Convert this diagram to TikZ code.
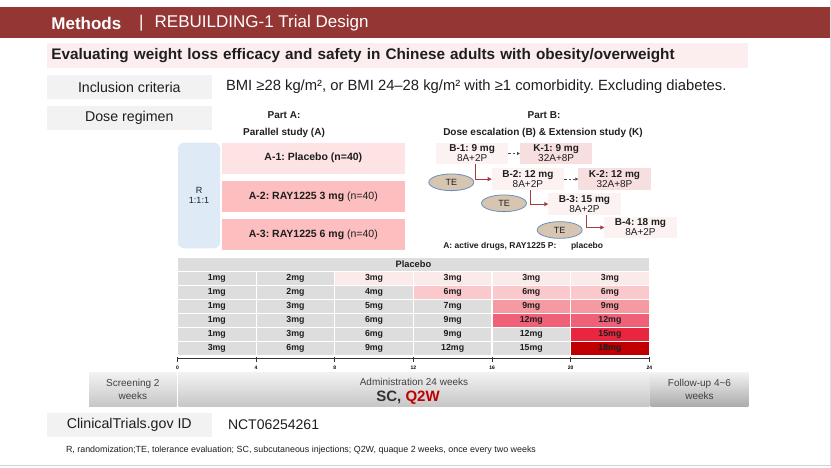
\documentclass[tikz,border=0pt]{standalone}
\usepackage{fontspec}
\setmainfont{Liberation Sans}
\usetikzlibrary{shapes.geometric,arrows.meta}
\frenchspacing
\definecolor{hdr}{HTML}{943634}
\definecolor{subpink}{HTML}{FCEEEE}
\definecolor{lblgray}{HTML}{F2F2F2}
\definecolor{rblue}{HTML}{DEEBF7}
\definecolor{apinkA}{HTML}{FDE3E3}
\definecolor{apinkB}{HTML}{FCBEBE}
\definecolor{bpink}{HTML}{FDF2F2}
\definecolor{kpink}{HTML}{F8DFDF}
\definecolor{tefill}{HTML}{D5C5B1}
\definecolor{teedge}{HTML}{6C8EBF}
\definecolor{arrred}{HTML}{A53C3C}
\definecolor{cgray}{HTML}{DDDDDD}
\definecolor{cthree}{HTML}{FBEAEA}
\definecolor{csix}{HTML}{FBC8CC}
\definecolor{cnine}{HTML}{F59AA1}
\definecolor{ctwelve}{HTML}{EF6178}
\definecolor{cfifteen}{HTML}{E8263F}
\definecolor{ceighteen}{HTML}{C00000}
\definecolor{txt}{HTML}{1E1E1E}
\definecolor{tltxt}{HTML}{404040}
\definecolor{tltop}{HTML}{F2F2F2}
\definecolor{tlbot}{HTML}{C6C6C6}
\definecolor{fubot}{HTML}{ABABAB}
\begin{document}
\begin{tikzpicture}[x=1pt,y=-1pt,
  every node/.style={inner sep=0pt, outer sep=0pt},
  lbox/.style={fill=lblgray, anchor=north west, minimum width=165.4pt, minimum height=24pt, font=\fontsize{14.2}{16}\selectfont, text=txt},
  abox/.style={anchor=north west, minimum width=183.3pt, minimum height=31pt, font=\fontsize{10.5}{12}\selectfont, text=txt},
  bbox/.style={fill=bpink, anchor=north west, minimum width=72.3pt, minimum height=21.6pt, align=center, font=\fontsize{10}{10}\selectfont, text=txt},
  kbox/.style={bbox, fill=kpink},
  te/.style={ellipse, fill=tefill, draw=teedge, line width=0.8pt, minimum width=45pt, minimum height=16.7pt, font=\fontsize{9}{10}\selectfont, text=txt},
  escal/.style={draw=arrred, line width=1pt, -{Triangle[length=4pt,width=4pt]}},
  ext/.style={draw=black!70, line width=0.8pt, dash pattern=on 2.5pt off 2pt, -{Triangle[length=3pt,width=3pt]}},
  cell/.style={draw=white, line width=1.2pt},
  ctext/.style={font=\bfseries\fontsize{8.8}{9}\selectfont, text=txt},
  ticklbl/.style={font=\bfseries\fontsize{5}{6}\selectfont},
  tlbox/.style={anchor=north west, minimum height=34.4pt, top color=tltop, bottom color=tlbot, align=center, text=tltxt, font=\fontsize{10}{12.6}\selectfont},
  parttxt/.style={font=\bfseries\fontsize{10}{12}\selectfont, text=txt}
]
\useasboundingbox (0,0) rectangle (831,468);
% header
\fill[hdr] (0,7.3) rectangle (830,38.3);
\node[anchor=west, text=white, font=\bfseries\fontsize{17}{20}\selectfont] (meth) at (51.4,23) {Methods};
\node[anchor=west, text=white, font=\fontsize{17}{20}\selectfont] (bar) at (139,23) {|};
\node[anchor=west, text=white, font=\fontsize{17}{20}\selectfont] (title) at (154.7,23) {REBUILDING-1 Trial Design};
% subtitle
\node[fill=subpink, anchor=north west, text width=692pt, inner xsep=4.8pt, minimum height=25pt, align=left, font=\bfseries\fontsize{15.3}{17}\selectfont, text=txt] (subt) at (46.6,43.3) {Evaluating weight loss efficacy and safety in Chinese adults with obesity/overweight};
% labels
\node[lbox] (incl) at (46.6,75) {Inclusion criteria};
\node[anchor=west, font=\fontsize{14.8}{16}\selectfont, text=txt] (crit) at (226,87) {BMI ≥28 kg/m², or BMI 24–28 kg/m² with ≥1 comorbidity. Excluding diabetes.};
\node[lbox] (dose) at (46.6,106) {Dose regimen};
% Part A
\node[parttxt] (pa) at (284,115) {Part A:};
\node[parttxt] (pas) at (284,133) {Parallel study (A)};
\node[fill=rblue, rounded corners=6pt, anchor=north west, minimum width=42pt, minimum height=105.6pt, align=center, font=\fontsize{9}{10.3}\selectfont, text=txt] (R) at (178,142.7) {R\\1:1:1};
\node[abox, fill=apinkA] (a1) at (221.7,142.7) {\textbf{A-1: Placebo (n=40)}};
\node[abox, fill=apinkB] (a2) at (221.7,181) {\textbf{A-2: RAY1225 3 mg} (n=40)};
\node[abox, fill=apinkB] (a3) at (221.7,219.3) {\textbf{A-3: RAY1225 6 mg} (n=40)};
% Part B
\node[parttxt] (pb) at (544,115) {Part B:};
\node[parttxt] (pbs) at (543,133) {Dose escalation (B) \& Extension study (K)};
\node[bbox] (b1) at (436,142.7) {\textbf{B-1: 9 mg}\\8A+2P};
\node[kbox] (k1) at (520,142.7) {\textbf{K-1: 9 mg}\\32A+8P};
\node[bbox] (b2) at (491.7,168.3) {\textbf{B-2: 12 mg}\\8A+2P};
\node[kbox] (k2) at (578.3,168.3) {\textbf{K-2: 12 mg}\\32A+8P};
\node[bbox] (b3) at (548.3,193.3) {\textbf{B-3: 15 mg}\\8A+2P};
\node[bbox] (b4) at (604.3,216.7) {\textbf{B-4: 18 mg}\\8A+2P};
\node[te] (te1) at (451.3,182.3) {TE};
\node[te] (te2) at (504,203.3) {TE};
\node[te] (te3) at (559.7,230) {TE};
\draw[ext] (b1.east) -- (k1.west);
\draw[ext] (b2.east) -- (k2.west);
\draw[escal] ([xshift=3pt]b1.south) |- (b2.west);
\draw[escal] ([xshift=3pt]b2.south) |- (b3.west);
\draw[escal] ([xshift=2pt]b3.south) |- (b4.west);
\node[anchor=west, font=\bfseries\fontsize{8.5}{10}\selectfont, text=txt] (leg1) at (443.3,246.7) {A: active drugs, RAY1225 P:};
\node[anchor=west, font=\bfseries\fontsize{8.5}{10}\selectfont, text=txt] (leg2) at (571,246.7) {placebo};
% table
\path[cell, fill=cgray] (177.5,257.7) rectangle (649.3,271.6);
\node[ctext, font=\bfseries\fontsize{9.3}{9}\selectfont] (plc) at (413.4,264.6) {Placebo};
\foreach \c/\t/\f in {0/1mg/cgray,1/2mg/cgray,2/3mg/cthree,3/3mg/cthree,4/3mg/cthree,5/3mg/cthree}{
  \path[cell, fill=\f] (177.5+78.63*\c,271.6) rectangle ++(78.63,14);
  \node[ctext] (ra\c) at (177.5+78.63*\c+39.3,278.6) {\t};}
\foreach \c/\t/\f in {0/1mg/cgray,1/2mg/cgray,2/4mg/cgray,3/6mg/csix,4/6mg/csix,5/6mg/csix}{
  \path[cell, fill=\f] (177.5+78.63*\c,285.6) rectangle ++(78.63,14);
  \node[ctext] (rb\c) at (177.5+78.63*\c+39.3,292.6) {\t};}
\foreach \c/\t/\f in {0/1mg/cgray,1/3mg/cgray,2/5mg/cgray,3/7mg/cgray,4/9mg/cnine,5/9mg/cnine}{
  \path[cell, fill=\f] (177.5+78.63*\c,299.6) rectangle ++(78.63,14);
  \node[ctext] (rc\c) at (177.5+78.63*\c+39.3,306.6) {\t};}
\foreach \c/\t/\f in {0/1mg/cgray,1/3mg/cgray,2/6mg/cgray,3/9mg/cgray,4/12mg/ctwelve,5/12mg/ctwelve}{
  \path[cell, fill=\f] (177.5+78.63*\c,313.6) rectangle ++(78.63,14);
  \node[ctext] (rd\c) at (177.5+78.63*\c+39.3,320.6) {\t};}
\foreach \c/\t/\f in {0/1mg/cgray,1/3mg/cgray,2/6mg/cgray,3/9mg/cgray,4/12mg/cgray,5/15mg/cfifteen}{
  \path[cell, fill=\f] (177.5+78.63*\c,327.6) rectangle ++(78.63,14);
  \node[ctext] (re\c) at (177.5+78.63*\c+39.3,334.6) {\t};}
\foreach \c/\t/\f in {0/3mg/cgray,1/6mg/cgray,2/9mg/cgray,3/12mg/cgray,4/15mg/cgray,5/18mg/ceighteen}{
  \path[cell, fill=\f] (177.5+78.63*\c,341.6) rectangle ++(78.63,14);
  \node[ctext] (rf\c) at (177.5+78.63*\c+39.3,348.6) {\t};}
% axis
\coordinate (ax0) at (177.5,358.3);
\coordinate (ax24) at (649.3,358.3);
\draw[line width=1.2pt, black!80] (ax0) -- (ax24);
\foreach \w in {0,4,...,24}{
  \draw[line width=1pt, black!80] (177.5+19.658*\w,356.5) -- ++(0,5);
  \node[ticklbl] (tk\w) at (177.5+19.658*\w,367.3) {\w};}
% timeline
\node[tlbox, minimum width=87.7pt] (scr) at (89,372.3) {Screening 2\\weeks};
\node[tlbox, minimum width=470.6pt] (adm) at (178.7,372.3) {};
\node[font=\fontsize{10}{12}\selectfont, text=tltxt] (admt) at (414,381.7) {Administration 24 weeks};
\node[font=\bfseries\fontsize{15}{18}\selectfont] (scq) at (408,397.7) {\textcolor{black!80}{SC,} \textcolor{ceighteen}{Q2W}};
\node[tlbox, minimum width=97.6pt, bottom color=fubot] (fu) at (650.7,372.3) {Follow-up 4\textasciitilde6\\weeks};
% id
\node[lbox, minimum height=23.4pt] (ctg) at (46.6,413.3) {ClinicalTrials.gov ID};
\node[anchor=west, font=\fontsize{14}{16}\selectfont, text=txt] (nct) at (228,425) {NCT06254261};
\node[anchor=west, font=\fontsize{8.9}{10}\selectfont, text=txt] (fn) at (66,450) {R, randomization;TE, tolerance evaluation; SC, subcutaneous injections; Q2W, quaque 2 weeks, once every two weeks};
% frame
\draw[black!18, line width=1.5pt] (0,465.3) -- (830.5,465.3);
\draw[black!12, line width=1pt] (830.3,0) -- (830.3,465.3);
\end{tikzpicture}
\end{document}
